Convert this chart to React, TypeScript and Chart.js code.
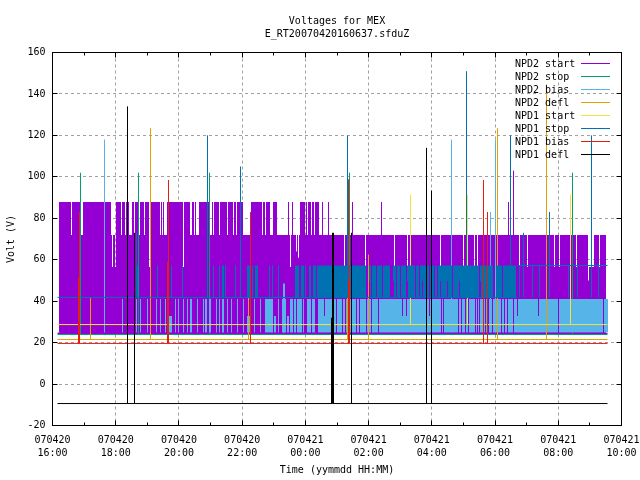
import React, { useEffect, useRef } from "react";
import { Chart, registerables } from "chart.js";

Chart.register(...registerables);

// Time is kept in telemetry frames since 070420 16:00 (18 h = 569 frames).
const MINUTES_PER_FRAME = 1080 / 569;
const FIRST_FRAME = 5;
const LAST_FRAME = 555;

const dateLabels = ["070420", "070420", "070420", "070420", "070421", "070421", "070421", "070421", "070421", "070421"];
const timeLabels = ["16:00", "18:00", "20:00", "22:00", "00:00", "02:00", "04:00", "06:00", "08:00", "10:00"];

const seriesNames = ["NPD2 start", "NPD2 stop", "NPD2 bias", "NPD2 defl", "NPD1 start", "NPD1 stop", "NPD1 bias", "NPD1 defl"];
const seriesColors = ["#9400d3", "#009e73", "#56b4e9", "#e69f00", "#f0e442", "#0072b2", "#e51e10", "#000000"];

type R = [number, number];
type S = [number, number];

// NPD2 start
const purpleBase = 24.4;
const purpleHighLevel = 87.85;
const purpleLowLevel = 71.93;
const purpleHighEnd = 270;
const purpleEnd = 553;
const purpleDrops: R[] = [[19,19],[28,30],[59,62],[69,69],[73,73],[77,79],[82,82],[87,87],[92,92],[97,97],[108,108],[110,110],[112,114],[131,131],[138,139],[142,142],[144,146],[157,159],[161,161],[167,167],[175,175],[181,181],[184,184],[191,198],[210,210],[213,213],[218,220],[225,228],[229,235],[237,239],[241,247],[253,253],[255,255],[259,259],[262,262],[267,269]];
const purpleDeep: [number, number, number][] = [[60,60,56.5],[63,63,56.5],[97,97,56.5],[131,131,56.5],[238,238,56.5],[244,244,64],[246,246,61],[292,292,56.5],[313,313,56.5],[342,342,56.5],[355,355,56.5],[388,388,56.5],[411,411,56.5],[422,422,56.5],[425,425,56.5],[467,467,56.5],[475,475,56.5],[502,502,56.5],[507,507,56.5],[524,524,56.5],[536,536,50],[537,541,56.5],[547,547,56.5]];
const purpleSpikes: S[] = [[276,87.85],[297,87.85],[300,87.85],[329,87.85],[456,87.85],[461,103]];

// NPD2 stop
const greenBase = 23.9;
const greenSpikes: S[] = [[28,102],[86,102],[157,102],[297,102],[520,102]];

// NPD2 bias
const skyBase = 24.9;
const skyLevel = 41.05;
const skyMidLevel = 32.84;
const skyBands: R[] = [[70,70],[84,84],[88,88],[95,95],[104,104],[108,108],[113,113],[123,123],[126,126],[131,131],[135,135],[138,139],[145,145],[151,151],[153,154],[157,158],[164,164],[167,167],[170,171],[175,175],[179,179],[185,185],[191,191],[202,202],[208,208],[213,220],[226,226],[230,233],[238,240],[242,243],[245,249],[251,251],[255,258],[260,262],[266,271],[273,555]];
const skyMidBands: R[] = [[117,119],[195,197],[222,223],[235,236],[272,272]];
const skyCuts: R[] = [[284,284],[290,290],[293,293],[304,304],[307,307],[314,314],[319,319],[326,326],[389,389],[391,391],[406,406],[409,409],[413,413],[416,416],[423,423],[425,425],[427,427],[433,433],[436,436],[440,440],[449,449],[452,452],[455,455],[461,461],[494,494],[506,506],[551,551]];
const skyMidCuts: number[] = [350, 354, 377, 465, 486];
const skySpikes: S[] = [[52,118],[231,48.5],[232,48.5],[399,118],[438,83],[443,118]];

// NPD2 defl
const orangeBase = 21.5;
const orangeSpikes: S[] = [[38,41.5],[98,123.5],[196,42],[295,43],[316,62.5],[445,123.5],[494,144.6]];

// NPD1 start
const yellowBase = 28.7;
const yellowSpikes: S[] = [[358,91.5],[415,91.5],[518,91.5]];

// NPD1 stop
const blueBase = 41.8;
const blueLevel = 57.2;
const blueShift = 465;
const blueShortFloor = 49.7;
const blueBands: R[] = [[85,85],[105,105],[119,119],[130,130],[161,161],[167,167],[170,171],[173,173],[183,183],[195,198],[200,200],[203,205],[217,217],[220,220],[226,226],[243,246],[249,251],[253,253],[257,258],[261,263],[265,463],[467,467],[480,480],[487,487],[516,516],[525,525],[546,546]];
const blueCuts: R[] = [[314,316],[319,319],[324,324],[330,330],[338,340],[344,344],[348,348],[354,354],[363,363],[367,367],[377,377],[382,382],[385,385],[400,400],[427,427],[441,443],[450,450]];
const blueShortCuts: number[] = [317, 341, 355, 370, 388, 395, 407, 428];
const blueSpikes: S[] = [[84,73],[155,120],[188,105],[295,120],[414,151],[458,120],[471,73],[497,83],[539,120]];

// NPD1 bias
const redBase = 19.6;
const redSpikes: S[] = [[26,51.4],[27,83],[115,59],[116,98.5],[198,83],[296,98.8],[297,50],[431,98.5],[435,83]];

// NPD1 defl
const blackBase = -9.4;
const blackSpikes: S[] = [[75,134],[82,73],[279,32],[280,73],[281,73],[299,73],[374,114],[379,93.4]];

type P = { x: number; y: number | null };
const t = (frame: number) => frame * MINUTES_PER_FRAME;
const within = (list: R[], s: number) => list.some(([a, b]) => s >= a && s <= b);

function stroke(out: P[], s: number, lo: number, hi: number) {
  out.push({ x: t(s), y: lo }, { x: t(s), y: hi }, { x: t(s), y: null });
}
function baseLine(out: P[], level: number, from = FIRST_FRAME, to = LAST_FRAME) {
  out.push({ x: t(from), y: level }, { x: t(to), y: level }, { x: t(to), y: null });
}
function withSpikes(base: number, spikes: S[]) {
  const out: P[] = [];
  baseLine(out, base);
  spikes.forEach(([s, top]) => stroke(out, s, base, top));
  return out;
}

function purpleSeries() {
  const out: P[] = [];
  baseLine(out, purpleBase);
  for (let s = 7; s <= purpleEnd; s++) {
    let top = s <= purpleHighEnd ? purpleHighLevel : purpleLowLevel;
    if (within(purpleDrops, s)) top = purpleLowLevel;
    const deep = purpleDeep.find(([a, b]) => s >= a && s <= b);
    if (deep) top = deep[2];
    stroke(out, s, purpleBase, top);
  }
  purpleSpikes.forEach(([s, top]) => stroke(out, s, purpleBase, top));
  return out;
}

function skySeries() {
  const out: P[] = [];
  baseLine(out, skyBase, FIRST_FRAME, 7);
  for (let s = FIRST_FRAME; s <= LAST_FRAME; s++) {
    if (within(skyMidBands, s) || skyMidCuts.includes(s)) stroke(out, s, skyBase, skyMidLevel);
    else if (within(skyBands, s) && !within(skyCuts, s)) stroke(out, s, skyBase, skyLevel);
  }
  skySpikes.forEach(([s, top]) => stroke(out, s, skyBase, top));
  return out;
}

function blueSeries() {
  const out: P[] = [];
  baseLine(out, blueBase, FIRST_FRAME, blueShift);
  baseLine(out, blueLevel, blueShift, LAST_FRAME);
  for (let s = FIRST_FRAME; s <= LAST_FRAME; s++) {
    if (blueShortCuts.includes(s)) stroke(out, s, blueShortFloor, blueLevel);
    else if (within(blueBands, s) && !within(blueCuts, s)) stroke(out, s, blueBase, blueLevel);
  }
  blueSpikes.forEach(([s, top]) => stroke(out, s, blueBase, top));
  return out;
}

const seriesData: P[][] = [
  purpleSeries(),
  withSpikes(greenBase, greenSpikes),
  skySeries(),
  withSpikes(orangeBase, orangeSpikes),
  withSpikes(yellowBase, yellowSpikes),
  blueSeries(),
  withSpikes(redBase, redSpikes),
  withSpikes(blackBase, blackSpikes),
];

const FONT = '10px "DejaVu Sans Mono"';

const framePlugin = {
  id: "gnuplotFrame",
  afterDatasetsDraw(chart: any) {
    const { ctx, chartArea: a, scales } = chart;
    ctx.save();
    ctx.strokeStyle = "#000";
    ctx.lineWidth = 1;
    ctx.setLineDash([]);
    ctx.beginPath();
    for (let m = 0; m <= 1080; m += 60) {
      const x = Math.round(scales.x.getPixelForValue(m) - 0.5) + 0.5;
      const len = m % 120 === 0 ? 5 : 3;
      ctx.moveTo(x, a.top);
      ctx.lineTo(x, a.top + len);
      ctx.moveTo(x, a.bottom);
      ctx.lineTo(x, a.bottom - len);
    }
    for (let v = -20; v <= 160; v += 20) {
      const y = Math.round(scales.y.getPixelForValue(v) - 0.5) + 0.5;
      ctx.moveTo(a.left, y);
      ctx.lineTo(a.left + 5, y);
      ctx.moveTo(a.right, y);
      ctx.lineTo(a.right - 5, y);
    }
    ctx.stroke();
    ctx.strokeRect(a.left, a.top, a.right - a.left, a.bottom - a.top);

    ctx.font = FONT;
    ctx.textAlign = "left";
    ctx.textBaseline = "middle";
    chart.data.datasets.forEach((d: any, i: number) => {
      const y = 64 + i * 13;
      ctx.fillStyle = "#000";
      ctx.fillText(d.label, 515, y);
      ctx.strokeStyle = d.borderColor;
      ctx.beginPath();
      ctx.moveTo(581, y - 0.5);
      ctx.lineTo(610, y - 0.5);
      ctx.stroke();
    });
    ctx.restore();
  },
};

export default function App() {
  const ref = useRef<HTMLCanvasElement>(null);
  useEffect(() => {
    document.body.style.margin = "0";
    const chart = new Chart(ref.current as HTMLCanvasElement, {
      type: "line",
      data: {
        datasets: seriesNames.map((label, i) => ({
          label,
          data: seriesData[i] as any,
          borderColor: seriesColors[i],
          backgroundColor: seriesColors[i],
          borderWidth: 1,
          pointRadius: 0,
          tension: 0,
          spanGaps: false,
          fill: false,
          order: seriesNames.length - i,
        })),
      },
      options: {
        animation: false,
        responsive: false,
        devicePixelRatio: 1,
        events: [],
        layout: { autoPadding: false, padding: { top: 15, right: 18.5, bottom: 0, left: 0 } },
        plugins: {
          legend: { display: false },
          tooltip: { enabled: false },
          title: {
            display: true,
            fullSize: false,
            text: ["Voltages for MEX", "E_RT20070420160637.sfduZ"],
            color: "#000",
            font: { family: "DejaVu Sans Mono", size: 10, weight: "normal", lineHeight: 1.3 },
            padding: { top: 0, bottom: 11.5 },
          },
        },
        scales: {
          x: {
            type: "linear",
            min: 0,
            max: 1080,
            afterFit(scale: any) { scale.height = 54.5; scale.paddingLeft = 0; scale.paddingRight = 0; },
            grid: { color: "#a0a0a0", drawTicks: false },
            border: { display: false, dash: [3, 3] },
            ticks: {
              stepSize: 120,
              autoSkip: false,
              maxRotation: 0,
              padding: 8,
              color: "#000",
              font: { family: "DejaVu Sans Mono", size: 10, lineHeight: 1.3 },
              callback: (v: any) => [dateLabels[Number(v) / 120], timeLabels[Number(v) / 120]],
            },
            title: {
              display: true,
              text: "Time (yymmdd HH:MM)",
              color: "#000",
              font: { family: "DejaVu Sans Mono", size: 10, weight: "normal", lineHeight: 1.3 },
              padding: { top: 0, bottom: 3 },
            },
          },
          y: {
            min: -20,
            max: 160,
            afterFit(scale: any) { scale.width = 52.5; },
            grid: { color: "#a0a0a0", drawTicks: false },
            border: { display: false, dash: [3, 3] },
            ticks: {
              stepSize: 20,
              padding: 7,
              color: "#000",
              font: { family: "DejaVu Sans Mono", size: 10, lineHeight: 1.3 },
            },
            title: {
              display: true,
              text: "Volt (V)",
              color: "#000",
              font: { family: "DejaVu Sans Mono", size: 10, weight: "normal", lineHeight: 1.3 },
              padding: { top: 5, bottom: 0 },
            },
          },
        },
      },
      plugins: [framePlugin],
    } as any);
    return () => chart.destroy();
  }, []);
  return <canvas ref={ref} width={640} height={480} style={{ display: "block" }} />;
}
